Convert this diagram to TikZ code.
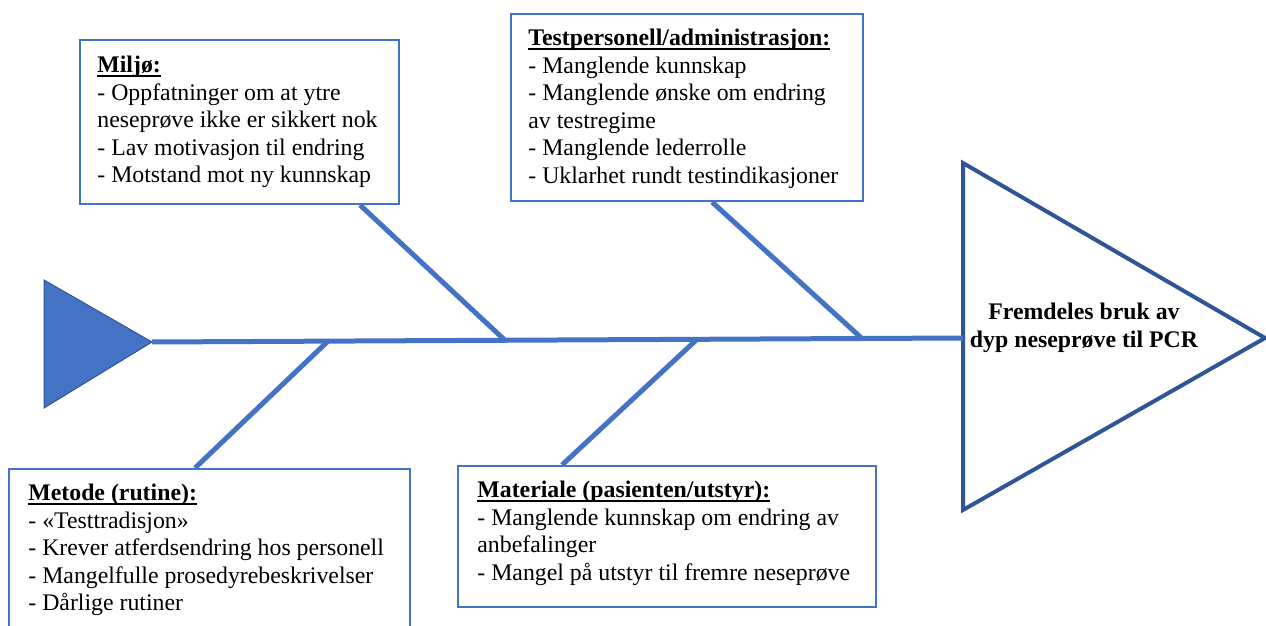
\documentclass[tikz,border=0pt]{standalone}
\usepackage{fontspec}
\setmainfont{Liberation Serif}
\definecolor{fiskblaa}{RGB}{68,114,196}
\definecolor{hodeblaa}{RGB}{47,85,151}
\newcommand\understrek[1]{\setbox0\hbox{\textbf{#1}}\rlap{\rule[-1.8pt]{\wd0}{0.6pt}}\box0}
\tikzset{
	bein/.style={fiskblaa, line width=2.5pt},
	boks/.style={draw=fiskblaa, fill=white, line width=1pt, inner sep=0pt, anchor=north west},
	tekst/.style={anchor=north west, inner sep=0pt, align=left, font=\fontsize{11.9}{13.75}\selectfont},
}
\begin{document}
\begin{tikzpicture}[x=0.5pt,y=-0.5pt]
			\useasboundingbox (0,0) rectangle (1266,626);
			\coordinate (halespiss) at (152,342);
			\coordinate (hodeinn) at (963,338);
			\coordinate (miljoledd) at (505,340.3);
			\coordinate (testledd) at (862,338.5);
			\coordinate (metodeledd) at (328,341.1);
			\coordinate (materialeledd) at (697,339.3);
			\fill[fiskblaa, draw=hodeblaa, line width=0.5pt] (44,280) -- (halespiss) -- (44,408) -- cycle;
			\draw[hodeblaa, line width=2pt] (hodeinn) -- (963,163) -- (1265,338) -- (963,510) -- cycle;
			\node[align=center, font=\bfseries\fontsize{11.9}{13.75}\selectfont] (virkning) at (1084,328) {Fremdeles bruk av\\dyp neseprøve til PCR};
			\draw[bein] (halespiss) -- (hodeinn);
			\node[boks, minimum width=159.5pt, minimum height=82pt] (miljo) at (79,39) {};
			\node[boks, minimum width=176pt, minimum height=93.5pt] (testpersonell) at (510,13) {};
			\node[boks, minimum width=200.5pt, minimum height=90pt] (metode) at (8,468) {};
			\node[boks, minimum width=209pt, minimum height=70.5pt] (materiale) at (457,465) {};
			\draw[bein] ([xshift=140.5pt]miljo.south west) -- (miljoledd);
			\draw[bein] ([xshift=101pt]testpersonell.south west) -- (testledd);
			\draw[bein] ([xshift=93.5pt]metode.north west) -- (metodeledd);
			\draw[bein] ([xshift=52.5pt]materiale.north west) -- (materialeledd);
			\node[tekst] (miljotekst) at (97,56) {\understrek{Miljø:}\\- Oppfatninger om at ytre\\neseprøve ikke er sikkert nok\\- Lav motivasjon til endring\\- Motstand mot ny kunnskap};
			\node[tekst] (testtekst) at (528,29) {\understrek{Testpersonell/administrasjon:}\\- Manglende kunnskap\\- Manglende ønske om endring\\av testregime\\- Manglende lederrolle\\- Uklarhet rundt testindikasjoner};
			\node[tekst] (metodetekst) at (28,484) {\understrek{Metode (rutine):}\\- «Testtradisjon»\\- Krever atferdsendring hos personell\\- Mangelfulle prosedyrebeskrivelser\\- Dårlige rutiner};
			\node[tekst] (materialetekst) at (477,481) {\understrek{Materiale (pasienten/utstyr):}\\- Manglende kunnskap om endring av\\anbefalinger\\- Mangel på utstyr til fremre neseprøve};
		\end{tikzpicture}
\end{document}
